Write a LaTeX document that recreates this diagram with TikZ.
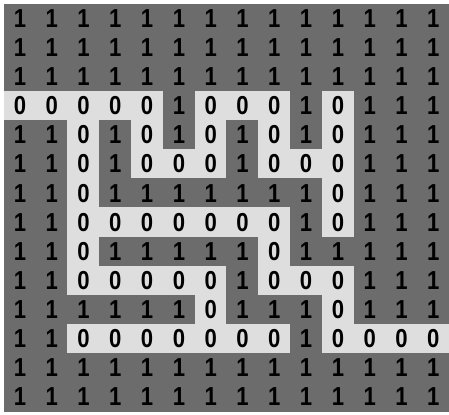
\documentclass[tikz,border=0pt]{standalone}
\usepackage{fontspec}
\setmainfont{Liberation Sans}
\newfontfamily\digitfont[FakeStretch=0.85]{Liberation Sans}
\definecolor{wallgray}{RGB}{108,108,108}
\definecolor{opengray}{RGB}{222,222,222}
\tikzset{
  cell1/.style={fill=wallgray, draw=wallgray, line width=0.3pt},
  cell0/.style={fill=opengray, draw=opengray, line width=0.3pt},
  digit/.style={font=\digitfont\fontsize{18.5}{18.5}\selectfont\bfseries, inner sep=0pt, text=black},
}
\newcommand{\CW}{0.795}
\newcommand{\CH}{0.7275}

\begin{document}
\begin{tikzpicture}
  \useasboundingbox[fill=white] (0,0) rectangle (11.225,-10.375);

  % maze: 1 = wall, 0 = open
  \foreach \row [count=\r from 0] in {
      {1,1,1,1,1,1,1,1,1,1,1,1,1,1},
      {1,1,1,1,1,1,1,1,1,1,1,1,1,1},
      {1,1,1,1,1,1,1,1,1,1,1,1,1,1},
      {0,0,0,0,0,1,0,0,0,1,0,1,1,1},
      {1,1,0,1,0,1,0,1,0,1,0,1,1,1},
      {1,1,0,1,0,0,0,1,0,0,0,1,1,1},
      {1,1,0,1,1,1,1,1,1,1,0,1,1,1},
      {1,1,0,0,0,0,0,0,0,1,0,1,1,1},
      {1,1,0,1,1,1,1,1,0,1,1,1,1,1},
      {1,1,0,0,0,0,0,1,0,0,0,1,1,1},
      {1,1,1,1,1,1,0,1,1,1,0,1,1,1},
      {1,1,0,0,0,0,0,0,0,1,0,0,0,0},
      {1,1,1,1,1,1,1,1,1,1,1,1,1,1},
      {1,1,1,1,1,1,1,1,1,1,1,1,1,1}}{
    \foreach \v [count=\c from 0] in \row {
      \draw[cell\v] ({0.1+\c*\CW},{-0.1-\r*\CH}) rectangle ++(\CW,-\CH);
      \node[digit] (d-\r-\c) at ({0.1+(\c+0.5)*\CW},{-0.1-(\r+0.5)*\CH}) {\v};
    }
  }

\end{tikzpicture}
\end{document}
